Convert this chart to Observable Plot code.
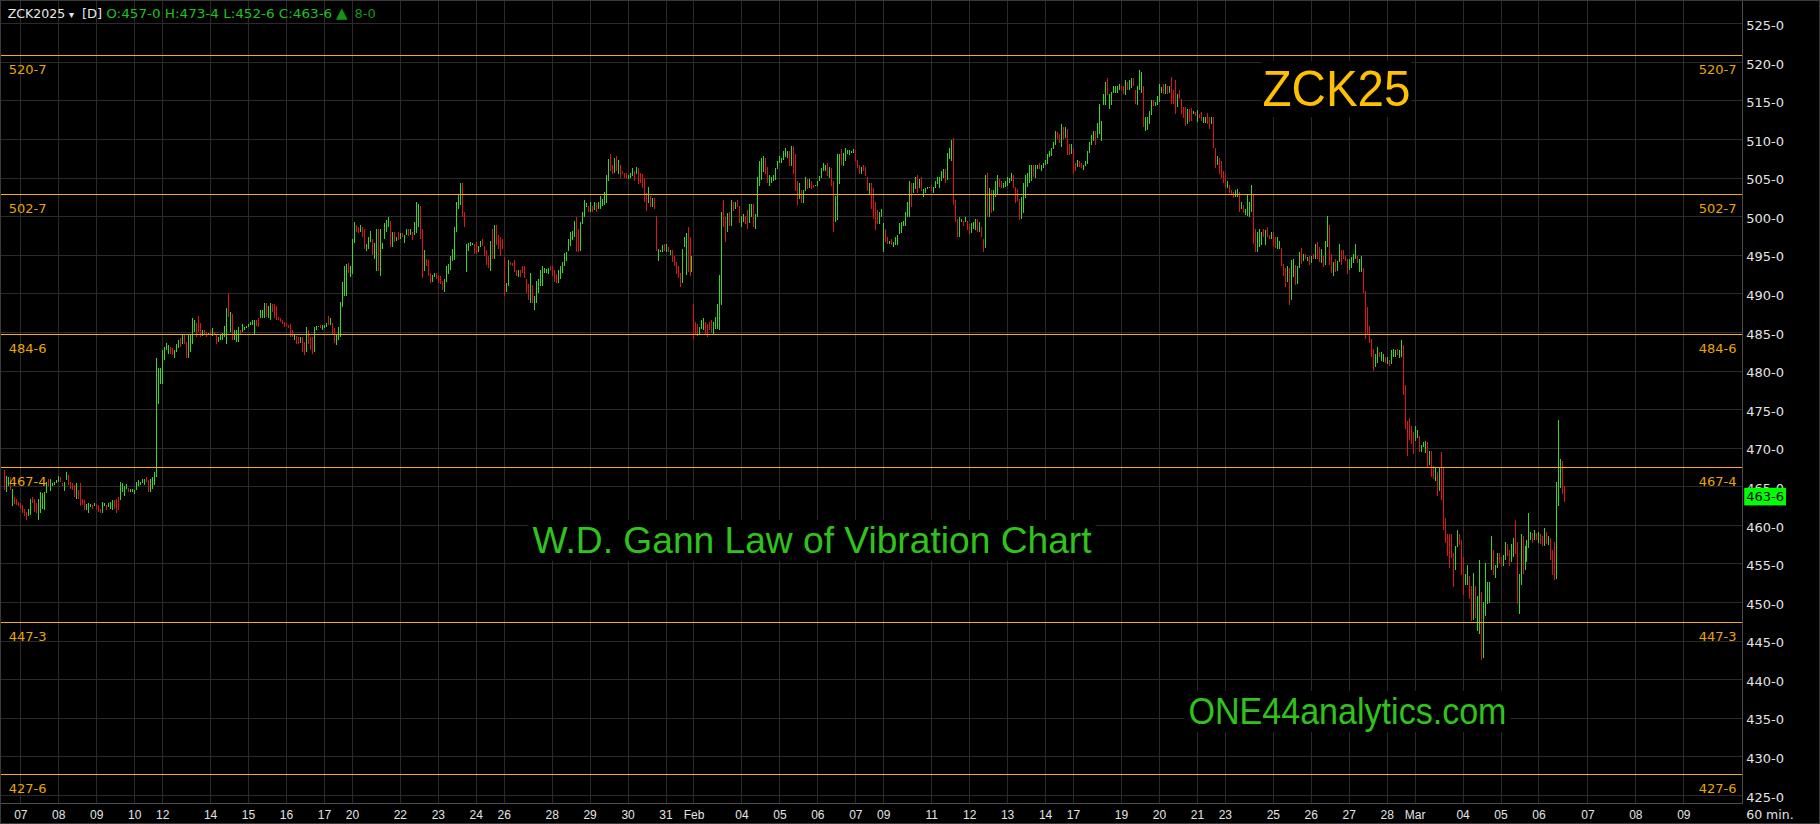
<!DOCTYPE html>
<html><head><meta charset="utf-8">
<script src="https://cdn.jsdelivr.net/npm/d3@7"></script>
<script src="https://cdn.jsdelivr.net/npm/@observablehq/plot@0.6"></script>
<style>
html,body{margin:0;padding:0;background:#000;overflow:hidden}
svg{display:block}
</style></head><body>
<script>
// ---- hourly bar highs (cents/bu, price x-y = x + y/8) ----
const highs = [
467.1,466.3,466.2,466.2,464.6,463.6,463.3,463.0,462.8,462.6,
462.0,461.7,462.1,463.4,463.6,463.3,462.8,463.4,464.2,464.1,
464.3,465.6,466.0,466.0,465.4,465.5,465.8,466.4,466.2,465.4,
465.5,466.8,466.5,465.6,465.4,465.2,465.4,464.5,465.4,463.4,
463.2,462.7,462.9,462.7,462.6,462.9,462.7,462.6,462.1,463.0,
462.9,462.6,462.9,463.0,463.2,463.2,463.4,463.6,465.6,465.4,
465.0,465.3,464.8,464.7,464.6,464.5,465.6,465.8,465.6,466.0,
466.0,466.2,465.8,466.0,466.2,466.9,481.6,480.3,480.3,482.7,
483.1,483.6,483.3,483.1,482.9,482.7,483.5,484.0,484.2,484.6,
484.6,483.7,484.8,484.8,486.8,486.5,486.1,487.1,486.1,485.3,
485.3,485.0,484.9,485.3,485.5,485.0,484.8,484.4,484.8,484.9,
485.8,488.1,490.0,487.6,487.3,485.2,485.2,485.7,485.3,486.0,
485.7,485.8,486.0,486.3,486.5,486.5,486.5,486.8,487.8,487.9,
488.7,488.8,488.4,488.7,488.6,488.6,488.4,487.0,486.8,486.5,
486.3,486.1,485.9,486.0,485.2,484.8,484.5,484.4,484.4,484.4,
483.7,485.7,485.3,484.4,484.4,485.7,485.8,485.8,485.9,485.9,
485.9,486.2,487.1,486.8,486.1,485.5,484.8,485.7,488.9,491.5,
493.5,493.8,494.0,493.5,497.1,499.2,498.9,498.6,498.8,498.6,
498.3,496.4,497.3,498.1,497.0,496.5,498.3,498.3,498.3,496.5,
499.1,499.5,499.9,499.4,498.0,498.0,497.35,498.0,497.8,497.8,
497.6,498.3,498.3,498.3,498.0,499.3,501.9,501.6,501.3,498.3,
495.6,494.5,494.3,492.6,492.4,492.7,492.6,492.4,492.2,491.6,
491.9,493.5,493.8,494.8,495.8,498.6,501.9,502.75,504.35,504.35,
500.5,496.4,496.5,496.6,496.5,496.4,496.6,496.1,496.8,497.1,
496.1,495.6,494.8,496.8,498.4,498.9,498.9,497.6,497.35,497.1,
494.7,491.4,494.3,494.1,494.0,494.3,493.0,493.0,493.0,493.55,
493.5,491.8,491.2,492.7,491.1,489.6,491.65,491.8,493.0,493.55,
493.3,493.1,493.3,493.55,493.55,493.0,492.5,493.0,493.55,494.1,
495.2,495.4,497.1,498.0,498.1,499.4,499.9,498.4,499.3,500.6,
502.1,501.7,501.3,501.9,501.3,501.9,501.7,501.9,502.6,502.2,
503.2,505.3,507.4,508.1,506.6,507.5,507.8,507.3,506.6,505.9,
505.6,505.6,505.3,505.6,506.3,505.9,506.4,506.2,505.6,505.5,
505.0,503.0,503.8,502.6,502.3,502.3,500.0,495.8,495.6,496.3,
496.4,496.4,496.0,495.6,495.6,494.85,494.1,493.55,492.6,495.8,
497.35,497.8,498.6,497.35,494.85,488.6,486.3,486.0,485.7,486.55,
486.8,486.3,486.0,486.3,486.55,486.3,486.9,488.6,492.4,500.6,
502.1,499.9,500.4,500.6,502.1,501.9,501.9,502.1,501.3,500.0,
500.3,500.0,500.8,501.6,501.6,501.6,500.3,505.1,507.2,507.5,
507.8,507.6,506.4,505.3,505.1,505.3,506.2,507.2,507.8,507.6,
508.4,508.8,508.4,508.4,509.1,509.1,508.05,504.6,504.25,503.4,
503.4,505.1,504.8,504.8,504.6,504.05,504.05,504.5,505.2,506.3,
506.85,506.6,506.85,506.4,506.3,504.6,502.6,508.05,508.05,508.7,
508.2,508.8,508.6,508.6,508.5,508.7,508.6,507.3,506.6,506.4,
506.6,506.4,505.1,504.35,504.25,503.6,501.9,500.8,500.6,501.0,
499.1,498.3,497.35,496.8,497.0,496.7,497.3,497.6,499.1,499.3,
499.4,500.6,501.9,504.6,504.35,504.25,505.1,505.3,504.8,505.1,
503.5,503.7,503.8,503.8,504.05,503.8,504.5,505.1,505.1,505.9,
506.1,506.1,508.15,508.9,509.9,510.1,502.1,499.7,499.9,499.6,
499.4,499.85,499.4,499.0,499.1,499.2,499.6,499.6,499.2,498.55,
497.1,505.3,505.55,503.6,503.4,503.4,504.6,505.3,504.8,504.6,
504.35,504.5,505.1,504.9,505.55,505.3,503.75,503.5,502.2,502.5,
504.35,505.3,505.6,506.6,506.6,506.6,506.6,506.6,506.9,506.6,
506.9,507.3,508.05,508.4,508.8,509.65,511.1,510.95,510.65,512.0,
511.6,511.5,511.3,509.4,509.4,508.8,506.85,507.3,507.1,506.85,
506.6,507.2,508.4,509.65,510.5,511.1,511.1,512.1,514.5,512.4,
515.8,517.4,517.9,515.9,516.1,516.9,516.9,516.9,517.1,516.9,
516.9,517.6,517.4,517.65,517.9,517.9,516.4,516.9,518.9,518.7,
516.9,512.9,512.9,513.7,515.1,515.1,514.85,515.6,517.1,516.7,
517.1,517.1,516.9,516.9,518.0,516.3,517.65,515.9,516.4,515.15,
514.1,514.1,513.85,513.85,514.0,513.7,513.55,513.8,513.3,513.55,
512.9,512.9,513.4,512.9,512.9,512.8,508.9,507.8,507.5,507.2,
505.9,505.5,504.6,504.05,503.4,503.2,503.4,503.5,503.2,501.9,
501.45,500.9,502.75,501.9,504.05,502.9,498.3,498.0,498.4,498.0,
498.3,498.2,498.65,497.6,498.0,498.0,497.35,497.3,496.8,495.85,
493.8,493.25,493.55,493.25,494.3,494.5,493.7,493.55,495.4,495.85,
495.1,495.1,494.7,494.85,494.85,495.1,496.4,496.7,496.05,495.7,
494.85,496.8,500.0,498.9,495.1,494.1,494.5,494.25,496.4,495.6,
495.6,494.85,494.5,494.5,494.75,495.1,496.4,494.85,494.5,494.85,
493.25,490.35,488.2,485.8,484.05,482.75,482.1,483.0,482.45,482.45,
482.1,481.7,481.7,481.4,482.6,482.75,482.6,482.75,482.6,483.9,
483.3,478.1,473.4,473.8,472.8,472.1,472.8,472.3,471.5,470.4,
470.7,470.9,470.7,469.6,469.6,467.6,467.5,466.9,467.5,469.4,
467.5,460.9,458.8,458.8,458.8,456.3,457.3,459.3,458.8,458.05,
455.9,453.6,454.8,453.4,452.1,453.8,452.1,450.8,455.4,451.3,
450.05,455.1,452.6,452.6,458.6,456.7,454.8,456.4,456.4,455.9,
456.1,457.8,457.5,456.7,457.5,458.3,460.6,457.8,453.6,458.8,
458.6,457.3,458.05,461.5,459.1,459.0,459.35,459.0,459.1,458.8,
458.6,459.55,459.1,458.6,458.3,456.8,457.8,465.6,473.6,468.5,
468.3,465.05
];
// ---- hourly bar lows ----
const lows = [
464.5,464.2,465.0,464.5,462.4,462.7,462.6,462.4,462.1,461.5,
461.2,460.6,461.1,461.3,462.8,461.7,461.5,460.6,461.5,462.1,
461.9,464.1,465.0,464.4,465.0,465.2,465.4,465.6,465.5,465.0,
464.4,465.8,465.2,464.7,464.5,463.6,463.4,463.3,462.4,462.6,
461.9,461.9,461.5,462.3,462.1,462.4,462.0,461.7,461.5,461.5,
462.4,461.9,462.3,462.1,461.9,462.1,461.5,461.9,463.2,464.3,
463.8,464.7,464.3,464.3,464.2,464.0,464.5,465.0,465.2,465.4,
465.2,465.5,464.3,464.3,464.7,465.2,466.2,475.7,478.3,478.3,
481.4,482.7,482.2,482.2,482.0,481.6,482.4,482.9,483.0,483.5,
483.5,481.6,481.6,482.4,483.5,485.0,484.4,485.0,484.3,484.5,
484.8,484.4,484.6,484.6,484.5,484.6,483.5,483.7,484.0,484.0,
484.4,483.5,487.0,485.0,483.9,483.9,483.7,483.7,484.8,485.0,
485.3,485.5,485.6,485.9,485.9,484.8,485.8,485.7,486.8,486.8,
486.8,487.0,486.8,486.5,487.6,486.8,486.5,486.5,486.3,486.0,
485.7,485.8,485.5,484.3,484.4,484.0,483.5,483.4,483.6,482.4,
482.0,482.4,483.5,482.7,482.2,482.4,485.3,485.6,485.5,485.3,
485.5,485.7,485.9,485.9,484.8,483.6,483.3,484.0,484.4,488.3,
489.7,489.7,492.6,492.1,492.5,496.5,498.0,497.8,498.0,497.3,
495.8,495.5,495.8,496.6,495.0,494.5,492.9,492.9,492.3,495.8,
497.1,498.0,498.6,496.05,496.05,496.7,496.8,496.9,497.1,497.35,
496.5,497.6,497.4,497.6,496.9,497.6,497.8,498.6,497.0,491.95,
492.9,493.5,492.3,491.3,491.5,492.1,491.8,491.3,491.2,490.4,
490.2,491.5,492.5,493.0,494.2,494.3,498.0,501.0,501.45,499.9,
498.6,492.8,495.5,496.1,496.3,495.1,495.1,495.3,496.0,496.1,
494.85,493.7,493.25,492.95,494.5,494.5,496.3,495.8,494.8,495.7,
489.7,490.2,490.9,493.7,493.5,492.8,492.25,492.1,492.1,492.6,
491.95,490.0,489.1,488.8,488.8,487.8,488.8,490.0,491.0,491.0,
492.6,492.6,492.5,493.0,492.2,491.5,491.4,491.3,491.8,492.6,
493.5,494.2,495.5,496.1,496.9,497.35,495.3,495.3,495.5,499.0,
499.9,501.15,500.5,500.6,500.5,500.8,500.6,501.0,501.0,501.3,
501.45,501.7,504.5,505.8,505.5,505.6,505.9,505.5,505.0,505.5,
505.0,505.0,504.8,505.0,505.2,504.6,505.5,504.2,504.35,503.6,
501.8,500.7,501.7,501.15,501.15,500.9,495.5,494.2,495.3,495.3,
495.5,495.4,495.3,495.0,494.1,493.5,492.5,491.95,490.8,491.3,
496.0,492.4,492.8,492.25,492.8,484.05,484.8,484.5,484.7,485.35,
485.25,484.8,484.3,485.2,484.9,484.8,485.35,485.35,485.25,488.5,
498.6,496.7,497.9,498.7,498.7,500.7,500.9,501.15,499.1,498.6,
499.3,499.0,498.3,499.1,499.9,498.6,498.3,499.9,503.9,504.7,
505.75,505.45,504.25,503.9,504.35,504.5,504.7,506.1,506.85,506.9,
507.3,507.7,507.6,506.5,506.5,505.45,503.3,501.45,502.2,501.75,
501.75,503.3,503.5,503.6,503.5,503.6,503.9,503.9,504.5,504.9,
505.9,505.8,505.2,504.9,503.9,498.0,499.3,499.5,504.2,506.6,
506.5,507.1,508.05,507.9,508.15,508.2,507.1,506.2,505.45,505.45,
505.8,505.2,503.3,502.9,500.9,499.7,498.2,499.0,499.0,499.9,
495.3,496.7,496.4,496.4,496.3,496.05,496.3,496.3,497.7,497.8,
498.7,498.7,499.9,499.9,501.25,502.95,503.5,502.95,503.6,503.3,
502.5,503.05,503.5,503.6,503.3,503.05,503.6,504.2,503.6,504.5,
504.9,504.25,504.7,507.4,507.2,501.45,499.3,497.3,497.3,499.3,
498.7,499.3,498.2,497.7,497.8,498.3,498.2,498.0,498.0,497.3,
495.3,495.85,499.9,499.9,500.45,500.7,502.5,502.9,503.8,503.6,
503.6,503.75,503.9,504.25,504.6,503.6,501.75,502.0,499.5,499.6,
500.45,502.3,503.75,504.35,504.5,505.1,505.0,506.1,506.1,505.8,
506.2,506.6,506.8,507.7,507.8,508.7,509.2,509.95,509.5,509.0,
509.9,510.1,507.9,507.9,508.05,505.45,505.9,506.4,506.4,506.2,
506.0,506.5,506.8,508.15,509.2,509.8,509.2,510.2,510.7,509.8,
514.4,514.4,515.7,513.85,514.4,516.0,516.0,516.0,516.4,516.3,
515.9,515.7,516.3,516.4,516.6,516.9,514.5,514.4,516.3,516.0,
511.5,511.0,511.2,512.0,513.1,514.3,514.3,514.4,514.85,516.0,
515.8,515.9,515.9,516.0,514.5,514.5,513.3,514.1,515.15,513.25,
512.7,511.7,511.95,512.25,512.4,513.25,513.0,512.25,512.7,512.4,
512.1,512.1,511.95,511.3,511.95,508.8,506.3,506.6,505.5,505.0,
504.35,503.6,503.6,502.95,502.75,502.3,502.5,502.5,500.5,500.9,
500.4,500.2,500.0,499.9,500.5,496.4,495.4,495.3,496.05,496.3,
497.35,496.3,497.35,497.1,497.0,496.0,495.85,495.7,495.7,493.5,
492.25,490.8,491.5,488.5,489.1,492.1,491.1,491.2,493.25,493.8,
494.25,494.4,494.25,493.7,493.9,494.4,494.5,494.4,494.1,493.9,
493.4,493.7,496.05,493.7,492.7,492.25,492.8,492.9,494.1,493.7,
494.4,494.25,492.5,493.0,493.25,494.0,494.5,493.9,492.8,492.8,
490.0,484.05,484.6,483.6,481.8,480.0,480.4,481.0,481.7,481.3,
481.15,481.0,480.85,480.6,480.85,481.8,481.7,482.0,481.6,481.7,
476.8,472.4,468.9,471.0,470.5,469.2,470.9,471.2,469.5,469.5,
470.1,469.3,467.55,467.8,466.25,465.9,465.7,463.75,464.4,463.2,
459.3,457.7,456.0,454.4,455.7,452.0,454.2,457.1,457.4,453.5,
450.9,452.2,452.2,450.4,447.5,447.7,447.9,446.3,445.8,442.5,
442.7,448.2,449.75,449.9,454.2,453.5,453.1,454.4,455.1,454.5,
454.7,455.5,456.0,454.7,455.2,455.8,456.2,449.75,448.5,452.2,
453.6,454.2,455.2,457.0,458.1,457.7,458.1,458.1,457.7,457.5,
457.3,457.2,457.5,457.4,455.5,453.5,452.8,452.95,462.5,464.75,
464.0,463.0
];
// ---- bar direction: 1 = up (green), 0 = down (red) ----
const ups = [
0,1,1,0,1,0,0,0,0,0, 0,0,1,1,0,0,0,1,1,1, 1,1,0,1,1,1,1,1,0,0, 1,1,0,0,0,0,1,0,0,0,
0,1,1,1,0,1,0,0,0,1, 1,0,1,1,1,0,0,0,1,1, 1,1,0,1,1,1,1,1,1,1, 1,0,0,1,1,1,1,1,1,1,
1,1,1,0,0,1,1,1,0,1, 0,0,1,1,1,1,0,0,0,1, 0,0,1,0,1,0,0,1,1,1, 1,1,0,1,0,1,1,1,0,1,
1,1,1,1,1,1,0,0,1,1, 1,0,1,1,0,0,0,0,0,0, 0,0,0,0,0,1,0,0,1,0, 0,1,0,0,0,1,1,1,0,1,
1,1,0,1,0,0,1,1,1,1, 1,1,0,1,1,1,0,0,1,0, 0,1,1,1,0,1,1,0,1,1, 1,1,1,0,1,0,1,0,1,0,
1,1,0,1,0,1,1,1,0,0, 1,0,0,0,1,1,0,0,0,0, 1,1,1,1,1,1,1,1,1,0, 0,1,1,1,1,0,0,1,1,0,
0,0,0,1,0,1,0,0,0,0, 0,1,1,0,0,0,0,1,0,0, 0,0,0,1,0,1,1,1,1,1, 1,1,1,0,0,0,0,1,1,1,
1,1,1,1,1,1,0,0,1,1, 1,1,0,1,0,1,0,1,1,1, 1,1,1,0,0,1,0,1,0,0, 0,0,1,1,1,0,1,0,0,0,
0,0,1,0,1,0,0,1,1,1, 0,1,0,1,0,0,0,0,0,1, 1,1,0,0,1,0,0,0,1,1, 1,0,0,0,0,1,1,1,1,1,
0,0,1,0,1,0,1,0,0,1, 1,0,0,1,1,0,1,1,1,1, 1,0,0,1,1,1,1,1,1,1, 1,1,1,0,1,0,0,0,1,0,
1,1,0,1,0,0,1,1,1,1, 1,1,0,1,0,0,1,1,1,0, 1,1,1,1,1,1,0,0,0,1, 0,0,0,1,0,0,0,0,1,1,
1,0,0,1,0,1,1,1,1,1, 1,1,1,1,0,1,1,0,1,0, 1,1,1,1,0,1,1,1,1,1, 1,0,1,1,1,0,0,0,1,1,
0,1,0,0,1,1,1,0,1,0, 0,1,0,1,0,1,1,1,0,0, 1,1,1,1,1,0,0,0,0,1, 1,1,1,1,1,0,1,1,0,1,
1,1,1,1,1,1,1,0,0,1, 0,1,0,0,1,0,0,1,0,0, 1,1,1,1,1,1,0,1,1,1, 1,1,0,1,1,1,1,1,1,0,
0,1,0,1,1,0,0,1,1,1, 0,1,1,1,1,0,1,1,1,1, 0,1,0,1,0,0,0,1,0,0, 0,0,1,0,0,1,0,1,0,0,
1,1,0,0,1,0,0,1,0,0, 0,0,1,0,0,0,1,1,0,1, 0,1,1,1,1,0,0,1,1,1, 0,1,0,0,1,0,0,1,1,0,
0,0,1,0,1,1,0,1,1,0, 1,0,1,0,1,0,1,0,0,1, 0,1,1,0,0,1,0,1,1,0, 0,0,0,1,1,1,1,0,1,1,
0,0,0,0,0,0,1,1,0,1, 1,0,1,0,1,1,1,0,1,1, 0,0,0,0,0,0,1,1,0,1, 1,1,0,1,0,0,1,0,1,0,
0,0,0,0,0,0,1,1,0,0, 0,1,1,0,0,1,0,1,1,0, 1,1,1,1,1,0,1,1,0,0, 1,1,0,0,1,1,0,0,1,1,
0,1,1,1,1,0,1,0,1,0, 0,1,0,1,0,0,0,1,1,1, 0,0
];

// ---- time axis: session labels and the bar they sit on ----
const dayLabels = ["07","08","09","10","12","14","15","16","17","20","22","23","24","26","28","29","30","31","Feb","04","05","06","07","09","11","12","13","14","17","19","20","21","23","25","26","27","28","Mar","04","05","06","07","08","09"];
const dayBars = [8,27,46,65,79,103,122,141,160,174,198,217,236,250,274,293,312,331,345,369,388,407,426,440,464,483,502,521,535,559,578,597,611,635,654,673,692,706,730,749,768,792.5,816.5,840.5];

// ---- price axis ----
const priceTicks = d3.range(425, 526, 5);
// ---- Gann vibration levels ----
const gannLevels = [520.875, 502.875, 484.75, 467.5, 447.375, 427.75];
const gannLabels = ["520-7", "502-7", "484-6", "467-4", "447-3", "427-6"];
// ---- last price / header ----
const lastPrice = 463.75, lastLabel = "463-6";
const symbolText = "ZCK2025", periodText = "[D]";
const ohlcText = "O:457-0 H:473-4 L:452-6 C:463-6", changeText = "8-0";
const titleText = "ZCK25", subtitleText = "W.D. Gann Law of Vibration Chart", siteText = "ONE44analytics.com";

const UP = "#35d81f", DN = "#dd1414", GRID = "#2a2a2a", GANN = "#f5b300", GANNTXT = "#e9a600";
const MONO = "DejaVu Sans", SANS = "Liberation Sans";

const bars = highs.map((h, i) => ({i, h, l: lows[i], up: ups[i]}));
const dayMap = new Map(dayBars.map((b, k) => [b, dayLabels[k]]));

const svg = Plot.plot({
  width: 1820, height: 824,
  marginLeft: 0, marginRight: 78, marginTop: 0, marginBottom: 21,
  style: {background: "#000", color: "#e4e4e4", overflow: "visible"},
  x: {type: "linear", domain: [-2.163, 869.88], axis: null},
  y: {type: "linear", domain: [423.96, 528.02], axis: null},
  marks: [
    Plot.ruleY(priceTicks, {y: d => d, stroke: GRID, strokeWidth: 1}),
    Plot.ruleX(dayBars, {x: d => d, stroke: GRID, strokeWidth: 1}),
    Plot.ruleX(bars, {x: "i", y1: "l", y2: "h", stroke: d => d.up ? UP : DN, strokeWidth: 1}),
    Plot.ruleY(gannLevels, {y: d => d, stroke: GANN, strokeWidth: 1}),
    Plot.text(gannLevels, {y: d => d, text: (d, i) => gannLabels[i], frameAnchor: "left", dx: 8.3, dy: 9.3, lineAnchor: "top", textAnchor: "start", fill: GANNTXT, fontSize: 13, fontFamily: MONO}),
    Plot.text(gannLevels, {y: d => d, text: (d, i) => gannLabels[i], frameAnchor: "right", dx: -6, dy: 9.3, lineAnchor: "top", textAnchor: "end", fill: GANNTXT, fontSize: 13, fontFamily: MONO}),
    // header line
    Plot.text([symbolText], {text: d => d, frameAnchor: "top-left", dx: 7.3, dy: 8.3, lineAnchor: "top", textAnchor: "start", fill: "#e8e8e8", fontSize: 12.5, fontFamily: MONO}),
    Plot.text(["▾"], {text: d => d, frameAnchor: "top-left", dx: 68.5, dy: 10, lineAnchor: "top", textAnchor: "start", fill: "#e8e8e8", fontSize: 10, fontFamily: MONO}),
    Plot.text([periodText], {text: d => d, frameAnchor: "top-left", dx: 81.5, dy: 8.3, lineAnchor: "top", textAnchor: "start", fill: "#e8e8e8", fontSize: 13, fontFamily: MONO}),
    Plot.text([ohlcText], {text: d => d, frameAnchor: "top-left", dx: 105.7, dy: 8.3, lineAnchor: "top", textAnchor: "start", fill: "#1fc21f", fontSize: 13, fontFamily: MONO}),
    Plot.text(["▲"], {text: d => d, frameAnchor: "top-left", dx: 335.5, dy: 6.5, lineAnchor: "top", textAnchor: "start", fill: "#139713", fontSize: 15, fontFamily: MONO}),
    Plot.text([changeText], {text: d => d, frameAnchor: "top-left", dx: 354, dy: 8.3, lineAnchor: "top", textAnchor: "start", fill: "#139713", fontSize: 13, fontFamily: MONO}),
    // annotations
    Plot.text([titleText], {text: d => d, frameAnchor: "top-left", dx: 1262, dy: 70, lineAnchor: "top", textAnchor: "start", fill: "#ffc000", fontSize: 50, fontFamily: SANS}),
    Plot.text([subtitleText], {text: d => d, frameAnchor: "top-left", dx: 532, dy: 526.7, lineAnchor: "top", textAnchor: "start", fill: "#2fc41b", fontSize: 36, fontFamily: SANS}),
    Plot.text([siteText], {text: d => d, frameAnchor: "top-left", dx: 1188, dy: 698, lineAnchor: "top", textAnchor: "start", fill: "#2fc41b", fontSize: 36, fontFamily: SANS}),
    // axes
    Plot.axisY(priceTicks, {anchor: "right", tickSize: 0, tickPadding: 3.7, dy: 2, tickFormat: d => `${d}-0`, fontSize: 13, fontFamily: MONO, color: "#e4e4e4", label: null}),
    Plot.axisX(dayBars, {anchor: "bottom", tickSize: 0, tickPadding: 7, tickFormat: d => dayMap.get(d), fontSize: 12, fontFamily: SANS, color: "#e4e4e4", label: null}),
    Plot.text(["60 min."], {text: d => d, frameAnchor: "bottom-right", dx: 3.7, dy: 6.3, lineAnchor: "top", textAnchor: "start", fill: "#e4e4e4", fontSize: 12.5, fontFamily: MONO}),
    // last price tag
    Plot.text([lastPrice], {y: d => d, text: () => lastLabel, frameAnchor: "right", dx: 3.7, dy: 0.5, textAnchor: "start", fill: "#000", fontSize: 13, fontFamily: MONO}),
    Plot.frame({stroke: "#4d4d4d"})
  ]
});
document.body.append(svg);

// crisp 1px rules
svg.querySelectorAll('g[aria-label="rule"]').forEach(g => g.setAttribute("shape-rendering", "crispEdges"));

function findText(str) { return [...svg.querySelectorAll("text")].find(t => t.textContent === str); }
function fit(str, len) {
  const t = findText(str);
  if (t) { t.setAttribute("textLength", len); t.setAttribute("lengthAdjust", "spacingAndGlyphs"); }
  return t;
}
function addBox(t, fill, px, py) {
  if (!t) return;
  const b = t.getBBox();
  const r = document.createElementNS("http://www.w3.org/2000/svg", "rect");
  r.setAttribute("x", b.x - px); r.setAttribute("y", b.y - py);
  r.setAttribute("width", b.width + 2 * px); r.setAttribute("height", b.height + 2 * py);
  r.setAttribute("fill", fill); r.setAttribute("stroke", "none");
  const tr = t.getAttribute("transform"); if (tr) r.setAttribute("transform", tr);
  t.parentNode.insertBefore(r, t);
}
fit(ohlcText, 226);
addBox(fit(titleText, 148), "#000", 1, 0);
addBox(fit(subtitleText, 559), "#000", 4, 0);
addBox(fit(siteText, 318), "#000", 4, 0);
addBox(findText(lastLabel), "#00ff00", 2, 1.3);

// outer window border
const ob = document.createElementNS("http://www.w3.org/2000/svg", "rect");
ob.setAttribute("x", 0.5); ob.setAttribute("y", 0.5); ob.setAttribute("width", 1819); ob.setAttribute("height", 823);
ob.setAttribute("fill", "none"); ob.setAttribute("stroke", "#3a3a3a");
svg.append(ob);
</script>
</body></html>
